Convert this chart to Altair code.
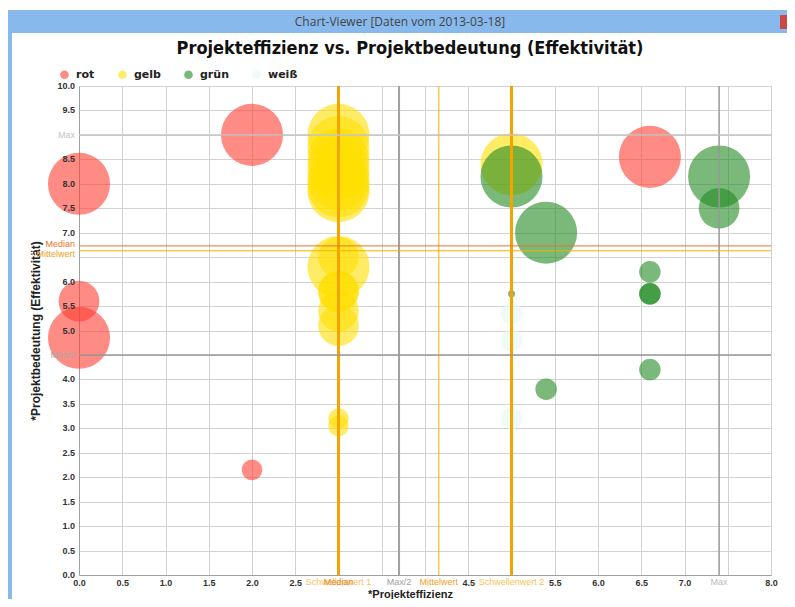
import altair as alt
import pandas as pd

# ---------------- data ----------------
kategorien = ["rot", "gelb", "grün", "weiß"]
kategorie_farben = ["#ff3d33", "#ffdf00", "#228b22", "#e2f8f1"]

rot_x = [0.0, 0.0, 0.0, 2.0, 2.0, 6.6]
rot_y = [8.0, 5.6, 4.85, 9.0, 2.15, 8.55]
rot_s = [100, 43, 100, 100, 11, 100]

gelb_x = [3.0, 3.0, 3.0, 3.0, 3.0, 3.0, 3.0, 3.0, 3.0, 3.0, 3.0, 3.0, 3.0, 3.0, 3.0, 5.0]
gelb_y = [9.0, 8.75, 8.5, 8.3, 8.1, 7.95, 7.85, 6.5, 6.3, 5.8, 5.8, 5.4, 5.1, 3.2, 3.05, 8.4]
gelb_s = [100, 100, 100, 100, 100, 100, 100, 43, 100, 43, 43, 43, 43, 11, 11, 100]

gruen_x = [5.0, 5.4, 7.4, 7.4, 6.6, 6.6, 6.6, 5.0, 6.6, 5.4]
gruen_y = [8.15, 7.0, 8.15, 7.5, 6.2, 5.75, 5.75, 5.75, 4.2, 3.8]
gruen_s = [100, 100, 100, 43, 12, 12, 12, 1.3, 12, 12]

weiss_x = [5.0, 5.0, 5.0]
weiss_y = [5.35, 4.8, 3.2]
weiss_s = [12, 12, 12]

x_ref_namen = ["Median", "Schwellenwert 1", "Max/2", "Mittelwert", "Schwellenwert 2", "Max"]
x_ref_werte = [3.0, 3.0, 3.7, 4.16, 5.0, 7.4]
y_ref_namen = ["Max", "Median", "Mittelwert", "Max/2"]
y_ref_werte = [9.0, 6.73, 6.63, 4.5]

x_ticks = [i * 0.5 for i in range(17)]
y_ticks = [i * 0.5 for i in range(21)]
x_versteckt = [3.0, 3.5, 4.0, 5.0, 7.5]
y_versteckt = [9.0, 6.5, 4.5]

titel = "Projekteffizienz vs. Projektbedeutung (Effektivität)"
fenster_titel = "Chart-Viewer [Daten vom 2013-03-18]"

# ---------------- styles ----------------
x_ref_style = {
    "Median": dict(color="#e8742a", width=1, label="#e8862a"),
    "Schwellenwert 1": dict(color="#f5a300", width=3, label="#f8bf55"),
    "Max/2": dict(color="#a0a0a0", width=2, label="#a0a0a0"),
    "Mittelwert": dict(color="#f5b000", width=1, label="#f0a020"),
    "Schwellenwert 2": dict(color="#f5a300", width=3, label="#f8bf55"),
    "Max": dict(color="#999999", width=1.5, label="#bbbbbb"),
}
y_ref_style = {
    "Max": dict(color="#c4c4c4", width=1.5, label="#c4c4c4", dy=0),
    "Median": dict(color="#e8742a", width=1, label="#e8742a", dy=-2),
    "Mittelwert": dict(color="#f5b000", width=1, label="#f0a020", dy=3),
    "Max/2": dict(color="#999999", width=1.5, label="#a8a8a8", dy=0),
}

W, H = 692, 489
tick_font = "Liberation Sans Narrow, Liberation Sans, Arial"

rows = []
for kat, xs, ys, ss in [("rot", rot_x, rot_y, rot_s), ("gelb", gelb_x, gelb_y, gelb_s),
                        ("grün", gruen_x, gruen_y, gruen_s), ("weiß", weiss_x, weiss_y, weiss_s)]:
    for x, y, s in zip(xs, ys, ss):
        rows.append({"Farbe": kat, "Effizienz": x, "Bedeutung": y, "Groesse": s})
df = pd.DataFrame(rows)
df["idx"] = range(len(df))

x_scale = alt.Scale(domain=[0, 8], nice=False, zero=False)
y_scale = alt.Scale(domain=[0, 10], nice=False, zero=False)

axis_common = dict(
    grid=True, gridColor="#d2d2d2", ticks=False, domainColor="#a0a0a0", format=".1f",
    labelOverlap=False, labelFlush=False,
    labelFont=tick_font, labelFontWeight="bold", labelFontSize=9, labelColor="#333333",
    titleFont="Liberation Sans Narrow, Liberation Sans", titleFontWeight="bold",
    titleColor="#222222",
)
x_axis = alt.Axis(
    values=x_ticks,
    labelExpr="indexof(" + str(x_versteckt) + ", datum.value) >= 0 ? '' : datum.label",
    labelPadding=3, title="*Projekteffizienz",
    titleFontSize=11, titlePadding=1, titleX=331, **axis_common,
)
# y tick labels are drawn by a text layer below; the axis supplies grid, domain and title
y_axis = alt.Axis(
    values=y_ticks, labels=False, labelPadding=4, title="*Projektbedeutung (Effektivität)",
    titleFontSize=12, titlePadding=37, **axis_common,
)


def xenc(field):
    return alt.X(field, scale=x_scale, axis=x_axis)


def yenc(field):
    return alt.Y(field, scale=y_scale, axis=y_axis)


bubbles = alt.Chart(df).mark_circle(opacity=0.6).encode(
    x=xenc("Effizienz:Q"),
    y=yenc("Bedeutung:Q"),
    size=alt.Size("Groesse:Q", scale=alt.Scale(domain=[0, 100], range=[0, 3850]), legend=None),
    color=alt.Color("Farbe:N", scale=alt.Scale(domain=kategorien, range=kategorie_farben),
                    legend=alt.Legend(title=None, orient="none", legendX=-20, legendY=-17,
                                      direction="horizontal", symbolType="circle", symbolSize=75,
                                      labelFont="DejaVu Sans", labelFontWeight="bold",
                                      labelFontSize=11, labelColor="#222222", labelOffset=6,
                                      columnPadding=22)),
    order=alt.Order("idx:Q"),
)

layers = [bubbles]

# reference lines
for name, wert in zip(x_ref_namen, x_ref_werte):
    st = x_ref_style[name]
    d = pd.DataFrame({"Effizienz": [wert]})
    layers.append(alt.Chart(d).mark_rule(color=st["color"], strokeWidth=st["width"]).encode(
        x=xenc("Effizienz:Q")))
for name, wert in zip(y_ref_namen, y_ref_werte):
    st = y_ref_style[name]
    d = pd.DataFrame({"Bedeutung": [wert]})
    layers.append(alt.Chart(d).mark_rule(color=st["color"], strokeWidth=st["width"]).encode(
        y=yenc("Bedeutung:Q")))

# y tick labels
y_lab = pd.DataFrame({"Bedeutung": [v for v in y_ticks if v not in y_versteckt]})
layers.append(alt.Chart(y_lab).mark_text(
    align="right", baseline="middle", fontSize=9, font=tick_font, fontWeight="bold",
    color="#333333").encode(
    y=yenc("Bedeutung:Q"), x=alt.value(-4), text=alt.Text("Bedeutung:Q", format=".1f")))

# reference labels on axes
for name in ["Schwellenwert 1", "Median", "Max/2", "Mittelwert", "Schwellenwert 2", "Max"]:
    st = x_ref_style[name]
    d = pd.DataFrame({"name": [name], "Effizienz": [x_ref_werte[x_ref_namen.index(name)]]})
    layers.append(alt.Chart(d).mark_text(align="center", baseline="top", fontSize=9,
                                         font="Liberation Sans Narrow, Liberation Sans",
                                         color=st["label"]).encode(
        x=xenc("Effizienz:Q"), y=alt.value(H + 3), text="name:N"))
for name, wert in zip(y_ref_namen, y_ref_werte):
    st = y_ref_style[name]
    d = pd.DataFrame({"name": [name], "Bedeutung": [wert]})
    layers.append(alt.Chart(d).mark_text(align="right", baseline="middle", fontSize=9, dy=st["dy"],
                                         font="Liberation Sans Narrow, Liberation Sans",
                                         color=st["label"]).encode(
        y=yenc("Bedeutung:Q"), x=alt.value(-4), text="name:N"))

# window frame decoration and chart title
frame = pd.DataFrame({"t": [fenster_titel], "titel": [titel]})
layers.append(alt.Chart(frame).mark_rect(color="#88b9ec").encode(
    x=alt.value(-71), x2=alt.value(708), y=alt.value(-76), y2=alt.value(-53)))
layers.append(alt.Chart(frame).mark_rect(color="#88b9ec").encode(
    x=alt.value(-71), x2=alt.value(-67), y=alt.value(-76), y2=alt.value(513)))
layers.append(alt.Chart(frame).mark_rect(color="#c94848").encode(
    x=alt.value(701), x2=alt.value(708), y=alt.value(-71), y2=alt.value(-57)))
layers.append(alt.Chart(frame).mark_text(
    font="Open Sans", fontSize=12, color="#444444", align="center", baseline="middle").encode(
    x=alt.value(321), y=alt.value(-64), text="t:N"))
layers.append(alt.Chart(frame).mark_text(
    font="DejaVu Sans Condensed, DejaVu Sans", fontSize=18, fontWeight="bold", color="#111111",
    align="center", baseline="alphabetic").encode(
    x=alt.value(331), y=alt.value(-32), text="titel:N"))

chart = alt.layer(*layers).properties(
    width=W, height=H,
    autosize=alt.AutoSizeParams(type="none"),
    padding={"left": 71, "top": 78, "right": 16, "bottom": 24},
).configure_view(stroke=None).configure(background="white")

chart.save("out.html", embed_options={"renderer": "svg", "actions": False})
